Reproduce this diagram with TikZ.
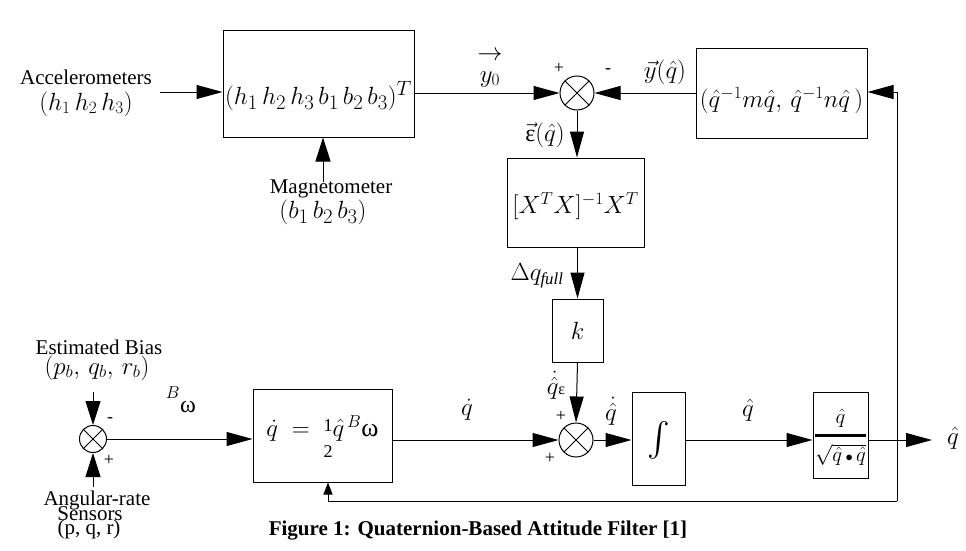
\documentclass[tikz,border=0pt]{standalone}
\usepackage{amsmath}
\usepackage{fontspec}
\setmainfont{Liberation Serif}
\DeclareFontFamily{OMX}{cmex}{}
\DeclareFontShape{OMX}{cmex}{m}{n}{<-> cmex10}{}
\usetikzlibrary{arrows.meta}
\newcommand{\txtsz}{\fontsize{21}{22}\selectfont}
\newcommand{\lblsz}{\fontsize{24}{26}\selectfont}
\newcommand{\lowr}[2]{\raisebox{-#1}[\height][\depth]{#2}}
\newcommand{\halfstack}{\raisebox{-7pt}{\fontsize{18}{26}\selectfont\begin{tabular}[c]{@{}c@{}}1\\2\end{tabular}}}
\begin{document}
\begin{tikzpicture}[x=1pt,y=-1pt,
  line width=1pt,
  >={Triangle[length=26pt,width=14pt]},
  blk/.style={draw, inner sep=0pt},
  sumj/.style={draw, circle, minimum size=#1, inner sep=0pt},
  txt/.style={inner sep=0pt, font=\txtsz},
  lbl/.style={inner sep=0pt, font=\lblsz},
  sgn/.style={inner sep=0pt, font=\fontsize{18}{18}\selectfont},
  smallarr/.style={-{Triangle[length=12pt,width=9pt]}},
  midarr/.style={-{Triangle[length=24pt,width=15pt]}}
]
\useasboundingbox (0,0) rectangle (966,551);

% ---------- top row ----------
\node[blk, minimum width=191pt, minimum height=106pt, font=\fontsize{28}{30}\selectfont] (b1) at (318.5,84)
  {\lowr{12pt}{$(h_1\,h_2\,h_3\,b_1\,b_2\,b_3)^T$}};

\node[txt] (acc) at (86,77) {Accelerometers};
\node[lbl, font=\fontsize{26}{28}\selectfont] (acch) at (86,104) {$(h_1\,h_2\,h_3)$};
\coordinate (accin) at (160,92);
\draw[->] (accin) -- (accin -| b1.west);

\node[txt] (mag) at (331,189) {Magnetometer};
\node[lbl, font=\fontsize{29}{30}\selectfont] (magb) at (323,212) {$(b_1\,b_2\,b_3)$};
\coordinate (magin) at (323,182);
\draw[midarr] (magin) -- (magin |- b1.south);

\node[sumj=34pt] (s1) at (577,93) {};
\draw[line width=0.8pt] (s1.45) -- (s1.225) (s1.135) -- (s1.315);
\draw[->] (b1.east |- s1) -- (s1.west);
\node[lbl] (y0) at (490,68) {$\overset{\raisebox{6pt}{$\rightarrow$}}{y_0}$};
\node[sgn] (p1) at (559,68) {+};
\node[sgn] (m1) at (608,71) {-};

\node[blk, minimum width=171pt, minimum height=89pt, font=\fontsize{26}{28}\selectfont] (mq) at (781.5,93.5)
  {\lowr{7pt}{$(\hat q^{-1}m\hat q,\, \hat q^{-1}n\hat q\,)$}};
\draw[->] (mq.west |- s1) -- (s1.east);
\node[lbl] (yq) at (665,72) {$\vec{y}(\hat q)$};

\node[blk, minimum width=137pt, minimum height=89pt, font=\fontsize{24}{26}\selectfont] (xtx) at (575.5,202.5)
  {\lowr{4pt}{$[X^TX]^{-1}X^T$}};
\draw[->] (s1.south) -- (s1.south |- xtx.north);
\node[lbl] (eps) at (545,135) {$\vec{\mbox{ε}}(\hat q)$};

\node[blk, minimum width=51pt, minimum height=63pt, font=\fontsize{26}{28}\selectfont] (k) at (577.5,330.5) {$k$};
\draw[->] (k.north |- xtx.south) -- (k.north);
\node[lbl] (dq) at (537,276) {$\Delta q_{\mathit{full}}$};

% ---------- bottom row ----------
\node[sumj=27pt] (s0) at (93,439) {};
\draw[line width=0.8pt] (s0.45) -- (s0.225) (s0.135) -- (s0.315);
\node[txt] (eb) at (99,347) {Estimated Bias};
\node[lbl, font=\fontsize{27}{28}\selectfont] (ebp) at (97,368) {$(p_b,\, q_b,\, r_b)$};
\coordinate (ebin) at (93,392);
\draw[midarr] (ebin) -- (s0.north);
\coordinate (arin) at (93,487);
\draw[midarr] (arin) -- (s0.south);
\node[sgn] (m0) at (110,420) {-};
\node[sgn] (p0) at (109,460) {+};
\node[txt] (ar1) at (97,500) {Angular-rate};
\node[txt] (ar2) at (90,514) {Sensors};
\node[txt] (ar3) at (89,529) {(p, q, r)};

\node[blk, minimum width=139pt, minimum height=93pt, font=\fontsize{26}{28}\selectfont] (qd) at (322.5,435.5)
  {\lowr{4pt}{$\dot q \;=\; \halfstack\hat q^{\,B}$ω}};
\draw[->] (s0.east) -- (s0 -| qd.west);
\node[lbl] (bw) at (181,400) {$^{B}$\raisebox{-0.45ex}{ω}};

\node[sumj=34pt] (s2) at (576,440) {};
\draw[line width=0.8pt] (s2.45) -- (s2.225) (s2.135) -- (s2.315);
\draw[->] (qd.east |- s2) -- (s2.west);
\node[lbl] (qdl) at (467,410) {$\dot q$};
\draw[->] (k.south) -- (s2.north);
\node[lbl] (qe) at (556,385) {$\dot{\hat q}${\fontsize{16}{16}\selectfont ε}};
\node[sgn] (p2) at (561,416) {+};
\node[sgn] (p3) at (550,458) {+};

\node[blk, minimum width=53pt, minimum height=93pt, font=\fontsize{34}{36}\selectfont] (int) at (658.5,438.5)
  {\lowr{2pt}{$\int$}};
\draw[->] (s2.east) -- (s2 -| int.west);
\node[lbl] (qhd) at (611,411) {$\dot{\hat q}$};

\node[blk, minimum width=55pt, minimum height=86pt, font=\fontsize{22}{24}\selectfont] (nrm) at (840.5,435)
  {\lowr{2pt}{$\genfrac{}{}{2.4pt}{0}{\hat q}{\sqrt{\hat q\,{\scriptstyle\bullet}\,\hat q}}$}};
\draw[->] (int.east |- s2) -- (nrm.west |- s2);
\node[lbl] (qh1) at (748,410) {$\hat q$};

\coordinate (out) at (932,440);
\draw[->] (nrm.east |- out) -- (out);
\node[lbl] (qh2) at (953,438) {$\hat q$};

% ---------- feedback ----------
\coordinate (fbr) at (897,501);
\coordinate (fbl) at (328,501);
\coordinate (fbt) at (897,92);
\draw[->] (fbr) -- (fbt) -- (fbt -| mq.east);
\draw[smallarr] (fbr) -- (fbl) -- (fbl |- qd.south);

% ---------- caption ----------
\node[inner sep=0pt, font=\fontsize{21}{22}\selectfont\bfseries] (cap) at (478,531) {Figure 1: Quaternion-Based Attitude Filter [1]};
\end{tikzpicture}
\end{document}
